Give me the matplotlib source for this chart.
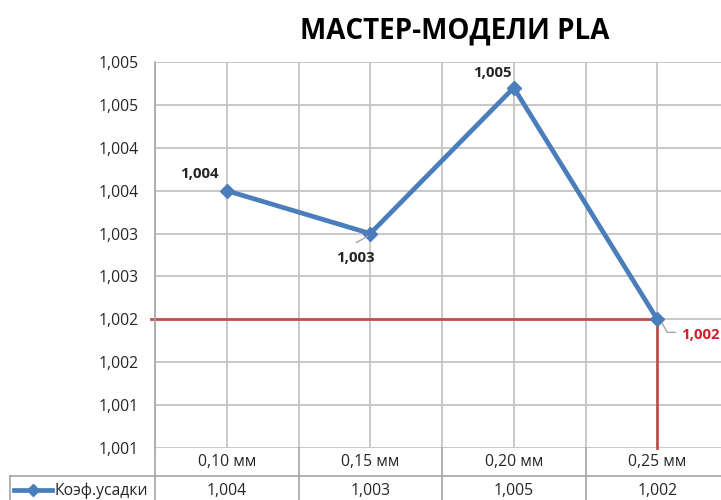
import matplotlib
matplotlib.use("Agg")
import matplotlib.pyplot as plt
import matplotlib.transforms as mtransforms
from matplotlib.lines import Line2D

plt.rcParams['font.family'] = ['Open Sans', 'DejaVu Sans']

# ---- data ----
categories = ["0,10 мм", "0,15 мм", "0,20 мм", "0,25 мм"]
values = [1.0035, 1.0030, 1.0047, 1.0020]
value_labels = ["1,004", "1,003", "1,005", "1,002"]
series_name = "Коэф.усадки"
title = "МАСТЕР-МОДЕЛИ PLA"
yticks = [1.0005, 1.0010, 1.0015, 1.0020, 1.0025, 1.0030, 1.0035, 1.0040, 1.0045, 1.0050]
ytick_labels = ["1,001", "1,001", "1,002", "1,002", "1,003", "1,003", "1,004", "1,004", "1,005", "1,005"]
ref_value = 1.0020
ref_index = 3

W, H = 721, 500
fig = plt.figure(figsize=(W / 100, H / 100), dpi=100)

def fx(px):
    return px / W

def fy(py):
    return 1 - py / H

left_px, right_px, top_px, bot_px = 155, 729, 62, 448
ax = fig.add_axes([fx(left_px), fy(bot_px), fx(right_px - left_px), (bot_px - top_px) / H])

x = list(range(len(categories)))
ax.set_xlim(-0.5, len(categories) - 0.5)
ax.set_ylim(yticks[0], yticks[-1])

grid_c = "#C4C4C4"
border_c = "#A6A6A6"
text_c = "#262626"
for yv in yticks:
    ax.axhline(yv, color=grid_c, lw=1.3, zorder=1)
for i in range(2 * len(categories) + 1):
    ax.axvline(-0.5 + 0.5 * i, color=grid_c, lw=1.3, zorder=1)
for s in ax.spines.values():
    s.set_visible(False)
ax.spines['left'].set_visible(True)
ax.spines['left'].set_color(border_c)
ax.spines['left'].set_linewidth(1.2)

ax.set_yticks(yticks)
ax.set_yticklabels(ytick_labels, fontsize=11.3, color=text_c)
ax.tick_params(axis='y', length=0, pad=12)
ax.set_xticks([])

blue = "#4A7EBB"
red = "#C0504D"
red_text = "#D0202A"

ax.plot([-0.53, x[ref_index]], [ref_value, ref_value], color=red, lw=2, zorder=2, clip_on=False)
ax.plot([x[ref_index], x[ref_index]], [yticks[0], ref_value], color=red, lw=2, zorder=2, clip_on=False)

ax.plot(x, values, color=blue, lw=3.4, marker="D", markersize=7.5, zorder=3, solid_capstyle='round')

offsets = [(-27, 17), (-15, -24), (-21, 15), (43, -16)]
for i, (v, lab, off) in enumerate(zip(values, value_labels, offsets)):
    col = red_text if i == ref_index else text_c
    ax.annotate(lab, (x[i], v), xytext=off, textcoords='offset pixels',
                ha='center', va='center', fontsize=10.8, fontweight='bold', color=col,
                annotation_clip=False, zorder=5)

def leader(i, pts):
    px0, py0 = ax.transData.transform((x[i], values[i]))
    xs = [(px0 + dx) / W for dx, dy in pts]
    ys = [(py0 + dy) / H for dx, dy in pts]
    fig.add_artist(Line2D(xs, ys, color="#A6A6A6", lw=1, transform=fig.transFigure, zorder=4))

leader(1, [(-3, -3), (-14, -9)])
leader(3, [(5, -4), (10, -13), (18, -13)])

fig.text(fx(455), fy(31), title, ha='center', va='center', fontsize=20, fontweight='bold', color="#000000")

# ---- data table ----
bt = mtransforms.blended_transform_factory(ax.transData, fig.transFigure)
row1_top, row1_bot, row2_bot = 448, 476, 505
for i in range(len(categories) + 1):
    xv = -0.5 + i
    fig.add_artist(Line2D([xv, xv], [fy(row1_top), fy(row2_bot)], color=border_c, lw=1.2, transform=bt))
fig.add_artist(Line2D([fx(10), fx(730)], [fy(row1_bot), fy(row1_bot)], color=border_c, lw=1.2,
                      transform=fig.transFigure))
fig.add_artist(Line2D([fx(10), fx(10)], [fy(row1_bot), fy(row2_bot)], color=border_c, lw=1.2,
                      transform=fig.transFigure))

for i, (cat, lab) in enumerate(zip(categories, value_labels)):
    fig.text(x[i], fy(462), cat, transform=bt, ha='center', va='center', fontsize=11.3, color=text_c)
    fig.text(x[i], fy(491), lab, transform=bt, ha='center', va='center', fontsize=11.3, color=text_c)

fig.add_artist(Line2D([fx(14), fx(52)], [fy(490), fy(490)], color=blue, lw=3.4,
                      transform=fig.transFigure))
fig.add_artist(Line2D([fx(33)], [fy(490)], color=blue, marker="D", markersize=6.5,
                      linestyle='none', transform=fig.transFigure))
fig.text(fx(55), fy(491), series_name, ha='left', va='center', fontsize=11.3, color=text_c)

fig.savefig("out.png", dpi=100)
